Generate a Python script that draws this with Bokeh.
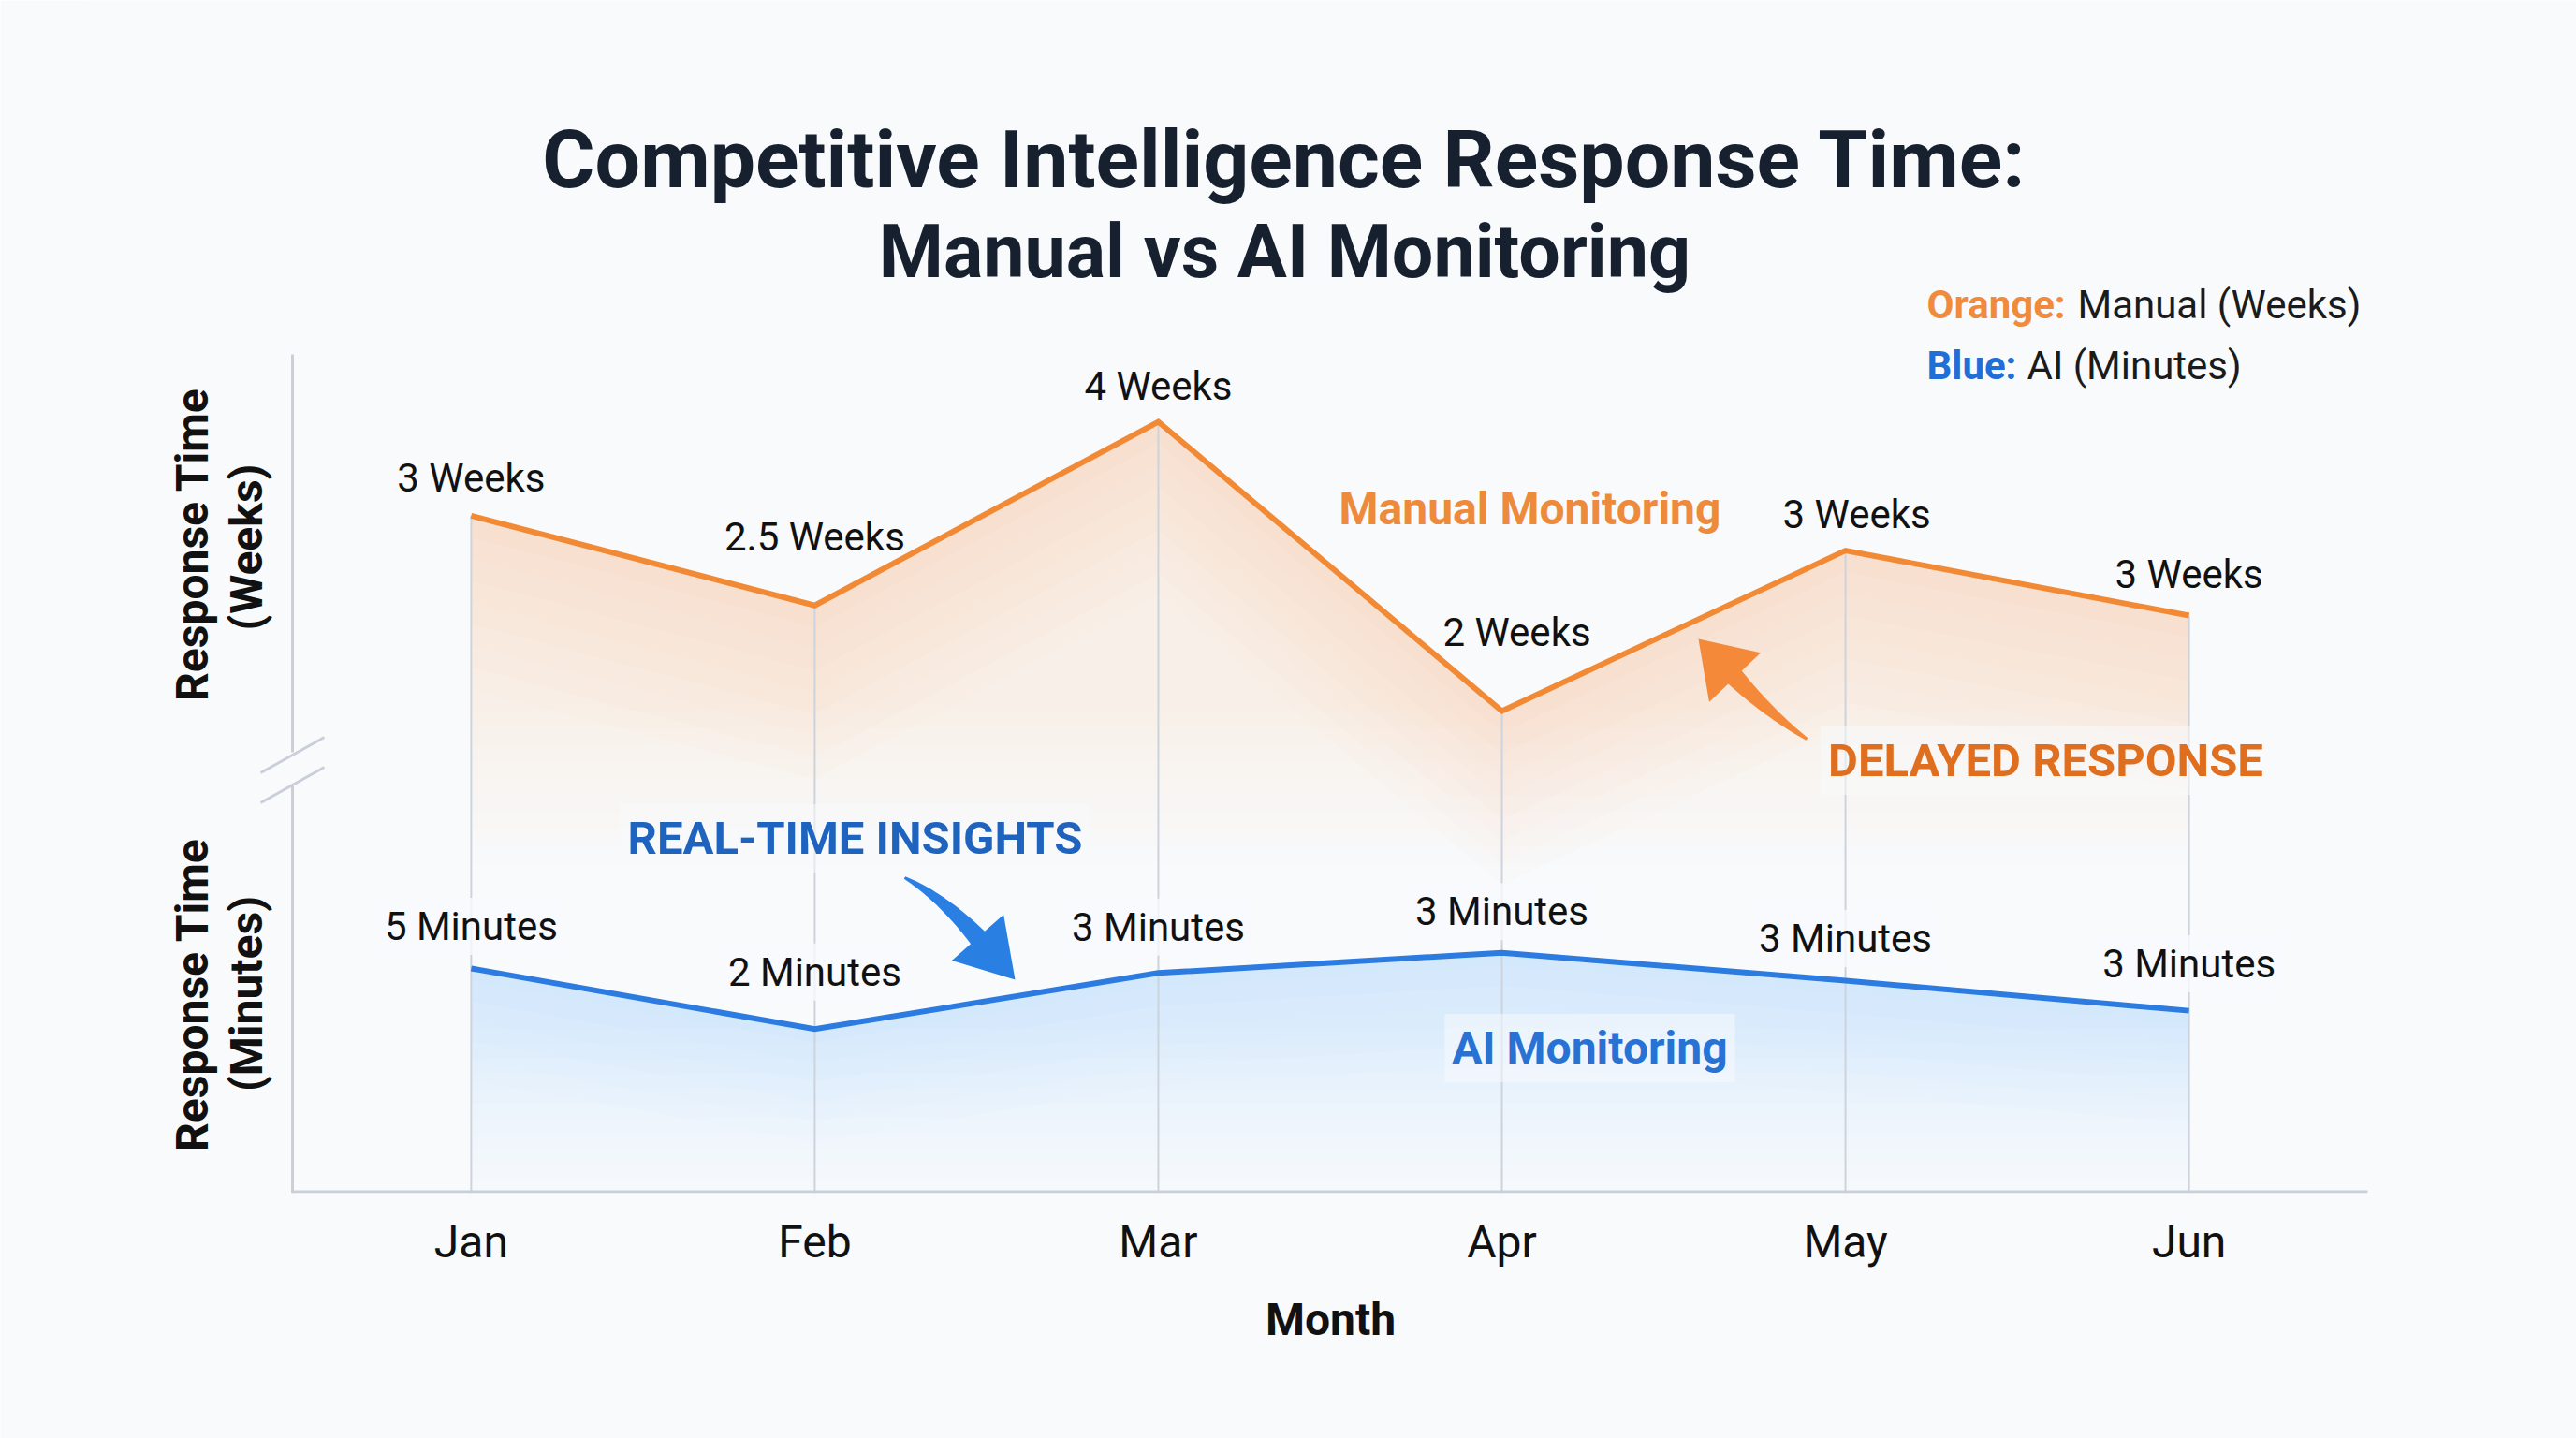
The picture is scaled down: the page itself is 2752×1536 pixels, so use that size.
import numpy as np
from bokeh.plotting import figure
from bokeh.models import Range1d, FixedTicker, Label, Arrow
from bokeh.embed import file_html
from bokeh.resources import INLINE
from bokeh.core.properties import value

# ---------------- data ----------------
months = ["Jan", "Feb", "Mar", "Apr", "May", "Jun"]
manual_weeks = [3.35, 2.73, 4.0, 2.0, 3.11, 2.66]          # plotted position (weeks)
manual_labels = ["3 Weeks", "2.5 Weeks", "4 Weeks", "2 Weeks", "3 Weeks", "3 Weeks"]
ai_minutes = [5.0, 3.65, 4.9, 5.35, 4.73, 4.06]              # plotted position (minutes)
ai_labels = ["5 Minutes", "2 Minutes", "3 Minutes", "3 Minutes", "3 Minutes", "3 Minutes"]

# ---------------- styling / layout ----------------
ORANGE = "#F28A35"
BLUE = "#2B7BE0"
BG = "#F8FAFC"
GRID = "#CDD3DC"
AXIS = "#C9D0DA"
FONT = "Roboto"

W, H = 2752, 1536
FL, FR, FT, FB = 90, 2752, 0, 1274             # frame edges on the canvas (px)
AX_L, AX_R, AX_T = 312, 2529, 378              # drawn axis extents (px)
JAN_PX, STEP_PX = 502.87, 367.05               # month placement
MIN_PX = 48.0                                   # px per minute (lower panel)
W4_PX, WEEK_PX = 450.0, 154.5                   # px of 4 weeks, px per week (upper panel)

X_RANGE = ((FL - JAN_PX) / STEP_PX, (FR - JAN_PX) / STEP_PX)
MIN_RANGE = (0.0, (FB - FT) / MIN_PX)
WEEK_RANGE = (4 - (FB - W4_PX) / WEEK_PX, 4 + (W4_PX - FT) / WEEK_PX)

manual_xoff = [0, 0, 0, 16, 12, 0]
manual_yoff = [-40, -73, -38, -84, -39, -44]
ai_yoff = [-45, -61, -49, -44, -45, -50]


def dx(px):
    return X_RANGE[0] + (px - FL) / (FR - FL) * (X_RANGE[1] - X_RANGE[0])


def dy(py):
    return MIN_RANGE[0] + (FB - py) / (FB - FT) * (MIN_RANGE[1] - MIN_RANGE[0])


xs = list(range(len(months)))

p = figure(width=W, height=H, x_range=Range1d(*X_RANGE), y_range=Range1d(*MIN_RANGE),
           output_backend="svg", toolbar_location=None, y_axis_location=None,
           min_border_left=FL, min_border_right=W - FR,
           min_border_top=FT, min_border_bottom=H - FB)
p.extra_y_ranges = {"weeks": Range1d(*WEEK_RANGE)}
p.background_fill_color = BG
p.border_fill_color = BG
p.outline_line_color = None
p.grid.visible = False

ax = p.xaxis[0]
ax.ticker = FixedTicker(ticks=xs)
ax.major_label_overrides = {i: m for i, m in enumerate(months)}
ax.axis_line_color = None
ax.major_tick_line_color = None
ax.minor_tick_line_color = None
ax.major_label_text_font = FONT
ax.major_label_text_font_size = "48px"
ax.major_label_text_color = "#111111"
ax.major_label_standoff = 17
ax.axis_label = "Month"
ax.axis_label_text_font = FONT
ax.axis_label_text_font_size = "48px"
ax.axis_label_text_font_style = "bold"
ax.axis_label_text_color = "#111111"
ax.axis_label_standoff = 23

# ---------------- gradient fills (stacked translucent layers) ----------------
mw = np.array(manual_weeks)
for b in np.linspace(0.95, mw.min(), 10):
    p.varea(x=xs, y1=manual_weeks, y2=float(b), fill_color="#F7913F", fill_alpha=0.011,
            y_range_name="weeks")
for d in np.linspace(0.15, 1.2, 8):
    p.varea(x=xs, y1=manual_weeks, y2=list(mw - d), fill_color="#F7913F", fill_alpha=0.014,
            y_range_name="weeks")
am = np.array(ai_minutes)
for b in np.linspace(0.0, am.min(), 12):
    p.varea(x=xs, y1=ai_minutes, y2=float(b), fill_color="#3D8EED", fill_alpha=0.006)
for d in np.linspace(0.3, 2.5, 6):
    p.varea(x=xs, y1=ai_minutes, y2=list(am - d), fill_color="#3D8EED", fill_alpha=0.009)

# vertical guide lines from manual points to the axis
p.segment(x0=xs, y0=WEEK_RANGE[0], x1=xs, y1=manual_weeks, y_range_name="weeks",
          line_color=GRID, line_width=2)

# lines
p.line(xs, manual_weeks, y_range_name="weeks", line_color=ORANGE, line_width=6,
       line_join="miter")
p.line(xs, ai_minutes, line_color=BLUE, line_width=6, line_join="miter")

# value labels
p.text(x=xs, y=manual_weeks, text=manual_labels, y_range_name="weeks",
       x_offset=manual_xoff, y_offset=manual_yoff,
       text_align="center", text_baseline="middle", text_font=value(FONT),
       text_font_size="42px", text_color="#111111")
p.text(x=xs, y=ai_minutes, text=ai_labels, y_offset=ai_yoff,
       text_align="center", text_baseline="middle", text_font=value(FONT),
       text_font_size="42px", text_color="#111111",
       background_fill_color=BG, background_fill_alpha=0.8, padding=6)


# ---------------- curved arrows ----------------
def curved_arrow(tail, base, tip, k, w0, w1, hw, n=30):
    P0, P2, T = np.array(tail, float), np.array(base, float), np.array(tip, float)
    d = (T - P2) / np.linalg.norm(T - P2)
    P1 = P2 - k * d
    t = np.linspace(0, 1, n)[:, None]
    B = (1 - t) ** 2 * P0 + 2 * (1 - t) * t * P1 + t ** 2 * P2
    D = 2 * (1 - t) * (P1 - P0) + 2 * t * (P2 - P1)
    N = np.stack([-D[:, 1], D[:, 0]], 1) / np.linalg.norm(D, axis=1)[:, None]
    w = (w0 + (w1 - w0) * t) / 2
    L, R = B + N * w, B - N * w
    nrm = np.array([-d[1], d[0]])
    pts = list(L) + [P2 + nrm * hw, T, P2 - nrm * hw] + list(R[::-1])
    return [dx(q[0]) for q in pts], [dy(q[1]) for q in pts]


bx, by = curved_arrow((966, 937), (1044, 1001), (1084, 1046), 58, 3, 20, 37)
p.patch(bx, by, fill_color="#2A7FE3", line_color=None)
ox, oy = curved_arrow((1930, 789), (1853, 723), (1814, 682), 55, 3, 20, 38)
p.patch(ox, oy, fill_color="#F5893A", line_color=None)

# ---------------- axes lines (broken left axis + bottom axis) ----------------
for (x0, y0, x1, y1) in [(AX_L, AX_T, AX_L, 803), (AX_L, 838, AX_L, FB),
                         (278, 825, 346, 787), (278, 857, 346, 819),
                         (AX_L, FB - 1.5, AX_R, FB - 1.5)]:
    p.add_layout(Arrow(end=None, start=None, x_start=dx(x0), y_start=dy(y0),
                       x_end=dx(x1), y_end=dy(y1), line_color=AXIS, line_width=3))


# ---------------- text annotations ----------------
def lab(text, px, py, size, color, style="normal", align="center", angle=0.0, halo=False):
    kw = dict(x=dx(px), y=dy(py), text=text, text_font=FONT, text_font_size=f"{size}px",
              text_color=color, text_font_style=style, text_align=align,
              text_baseline="middle", angle=angle)
    if halo:
        kw.update(background_fill_color=BG, background_fill_alpha=0.55, padding=8)
    p.add_layout(Label(**kw))


lab("Competitive Intelligence Response Time:", 1372, 170, 86, "#17202E", "bold")
lab("Manual vs AI Monitoring", 1372, 268, 79, "#17202E", "bold")

lab("Orange:", 2058, 325, 42, "#F08A3C", "bold", "left")
lab("Manual (Weeks)", 2219, 325, 42, "#1B1B1B", "normal", "left")
lab("Blue:", 2058, 390, 42, "#1F6FD6", "bold", "left")
lab("AI (Minutes)", 2165, 390, 42, "#1B1B1B", "normal", "left")

lab("Response Time", 205, 581, 48, "#111111", "bold", angle=np.pi / 2)
lab("(Weeks)", 263, 584, 48, "#111111", "bold", angle=np.pi / 2)
lab("Response Time", 205, 1062, 48, "#111111", "bold", angle=np.pi / 2)
lab("(Minutes)", 263, 1061, 48, "#111111", "bold", angle=np.pi / 2)

lab("Manual Monitoring", 1634, 543, 48, "#EE8A3C", "bold")
lab("DELAYED RESPONSE", 2185, 812, 49, "#DF6F1F", "bold", halo=True)
lab("REAL-TIME INSIGHTS", 913, 895, 49, "#1E63BE", "bold", halo=True)
lab("AI Monitoring", 1698, 1119, 48, "#2872D4", "bold", halo=True)

open("out.html", "w").write(file_html(p, INLINE))
